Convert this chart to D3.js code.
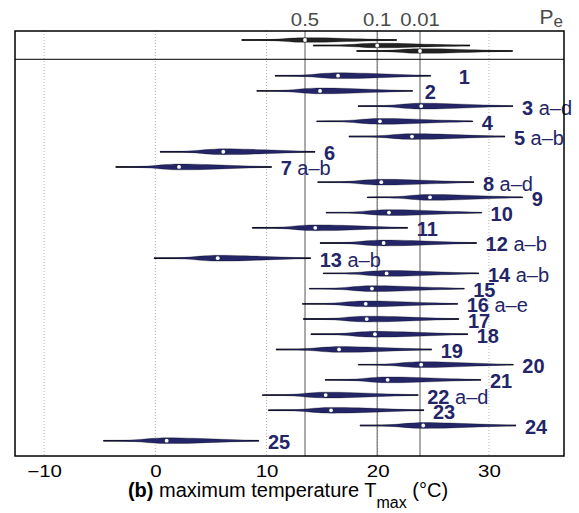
<!DOCTYPE html>
<html><head><meta charset="utf-8">
<script src="https://cdn.jsdelivr.net/npm/d3@7"></script>
<style>body{margin:0;background:#fff} svg{display:block;font-family:"Liberation Sans",Arial,Helvetica,sans-serif}</style>
</head><body><svg id="c" width="579" height="513"></svg>
<script>
// ---- data ----
const siteIds = ["1","2","3","4","5","6","7","8","9","10","11","12","13","14","15","16","17","18","19","20","21","22","23","24","25"];
const siteSuffix = ["","","a–d","","a–b","","a–b","a–d","","","","a–b","a–b","a–b","","a–e","","","","","","a–d","","",""];
const siteLow = [10.76,9.12,18.22,14.51,17.41,0.42,-3.56,14.60,19.06,15.35,8.72,14.81,-0.12,15.10,13.85,13.22,13.31,13.99,10.85,18.25,15.26,9.62,10.16,18.40,-4.67];
const siteMedian = [16.43,14.81,23.91,20.20,23.08,6.11,2.13,20.32,24.70,21.01,14.38,20.53,5.61,20.80,19.48,18.92,19.01,19.75,16.52,23.91,20.89,15.32,15.80,24.09,1.02];
const siteHigh = [24.76,23.14,32.16,28.54,31.44,14.36,10.46,28.65,33.03,29.34,22.69,28.89,13.97,29.10,27.78,27.19,27.30,28.09,24.85,32.19,29.28,23.64,24.16,32.43,9.32];

const peLabels = ["0.5","0.1","0.01"];
const peLow = [7.77,14.20,18.10];
const peMedian = [13.46,19.95,23.80];
const peHigh = [21.70,28.29,32.13];

const xTicks = [-10,0,10,20,30];

// violin density profile (fraction of half-range, relative density)
const profLeftFrac = [0,0.35,0.5,0.65,0.8,0.9,1];
const profLeftDens = [0,0.05,0.2,0.5,0.8,0.95,1];
const profRightFrac = [0,0.15,0.3,0.45,0.6,0.75,0.9,1];
const profRightDens = [1,0.97,0.82,0.62,0.42,0.24,0.07,0];

// ---- layout ----
const svg = d3.select("#c");
const L = 15, R = 564, T = 31, SEP = 59.3, B = 456;
const navy = "#232567";
const x = d3.scaleLinear().domain([-12.62, 36.75]).range([L, R]);
const y = d3.scalePoint().domain(siteIds).range([75.7, 440.7]);
const yTop = d3.scalePoint().domain(peLabels).range([40, 51]);
const hMain = d3.scaleLinear().domain([0,1]).range([0.4, 2.9]);
const hTop = d3.scaleLinear().domain([0,1]).range([0.3, 2.3]);

// gridlines
svg.append("g").selectAll("line").data(xTicks).join("line")
  .attr("x1", d => x(d)).attr("x2", d => x(d)).attr("y1", T).attr("y2", B)
  .attr("stroke", "#b5b5b5").attr("stroke-width", 1).attr("stroke-dasharray", "1,2");

// Pe lines
svg.append("g").selectAll("line").data(peMedian).join("line")
  .attr("x1", d => x(d)).attr("x2", d => x(d)).attr("y1", T).attr("y2", B)
  .attr("stroke", "#666").attr("stroke-width", 1.1);

function profile(lo, med, hi) {
  const pts = [];
  profLeftFrac.forEach((f, i) => pts.push({t: lo + f * (med - lo), d: profLeftDens[i]}));
  profRightFrac.forEach((f, i) => { if (i > 0) pts.push({t: med + f * (hi - med), d: profRightDens[i]}); });
  return pts;
}
function drawViolin(g, lo, med, hi, yy, fill, h) {
  g.append("line").attr("x1", x(lo)).attr("x2", x(hi)).attr("y1", yy).attr("y2", yy)
    .attr("stroke", "#000").attr("stroke-width", 1.4);
  const area = d3.area().x(p => x(p.t)).y0(p => yy - h(p.d)).y1(p => yy + h(p.d)).curve(d3.curveMonotoneX);
  g.append("path").attr("d", area(profile(lo, med, hi))).attr("fill", fill)
    .attr("stroke", "#000").attr("stroke-width", 0.3);
  g.append("circle").attr("cx", x(med)).attr("cy", yy).attr("r", 1.9).attr("fill", "#fff");
}

const gv = svg.append("g");
peLabels.forEach((p, i) => drawViolin(gv, peLow[i], peMedian[i], peHigh[i], yTop(p), "#222", hTop));
siteIds.forEach((s, i) => drawViolin(gv, siteLow[i], siteMedian[i], siteHigh[i], y(s), navy, hMain));

// site labels
const labelNudge = {"1": 19, "2": 3};
const gl = svg.append("g").attr("fill", navy).attr("font-size", 20);
siteIds.forEach((s, i) => {
  const t = gl.append("text").attr("x", x(siteHigh[i]) + 9 + (labelNudge[s] || 0)).attr("y", y(s) + 8.5);
  t.append("tspan").attr("font-weight", "bold").text(s);
  if (siteSuffix[i]) t.append("tspan").text(" " + siteSuffix[i]);
});

// frame + separator
svg.append("rect").attr("x", L).attr("y", T).attr("width", R - L).attr("height", B - T)
  .attr("fill", "none").attr("stroke", "#000").attr("stroke-width", 1.5);
svg.append("line").attr("x1", L).attr("x2", R).attr("y1", SEP).attr("y2", SEP).attr("stroke", "#000").attr("stroke-width", 1);

// x axis
const ax = svg.append("g").attr("transform", `translate(0,${B})`)
  .call(d3.axisBottom(x).tickValues(xTicks).tickSize(0).tickPadding(0).tickFormat(d => d < 0 ? "−" + Math.abs(d) : d));
ax.select(".domain").remove();
ax.selectAll("text").attr("font-size", 16).attr("fill", "#000").attr("dy", null).attr("y", 0)
  .attr("transform", "translate(0,20.8) scale(1.28,1)")
  .attr("font-family", "Liberation Sans, Arial, sans-serif");

// top Pe labels
const gp = svg.append("g").attr("fill", "#4a4a4a");
peLabels.forEach((p, i) => gp.append("text")
  .attr("transform", `translate(${x(peMedian[i])},26) scale(1.1,1)`)
  .attr("font-size", 18.5).attr("text-anchor", "middle").text(p));
const pe = gp.append("text").attr("x", 539.5).attr("y", 24);
pe.append("tspan").attr("font-size", 21).text("P");
pe.append("tspan").attr("font-size", 17).attr("dy", 2.5).text("e");

// axis title
const tt = svg.append("text").attr("x", 288).attr("y", 497).attr("text-anchor", "middle").attr("font-size", 20).attr("fill", "#000");
tt.append("tspan").attr("font-weight", "bold").text("(b)");
tt.append("tspan").text(" maximum temperature T");
tt.append("tspan").attr("font-size", 16).attr("dy", 11).text("max");
tt.append("tspan").attr("dy", -11).text(" (°C)");
</script></body></html>
